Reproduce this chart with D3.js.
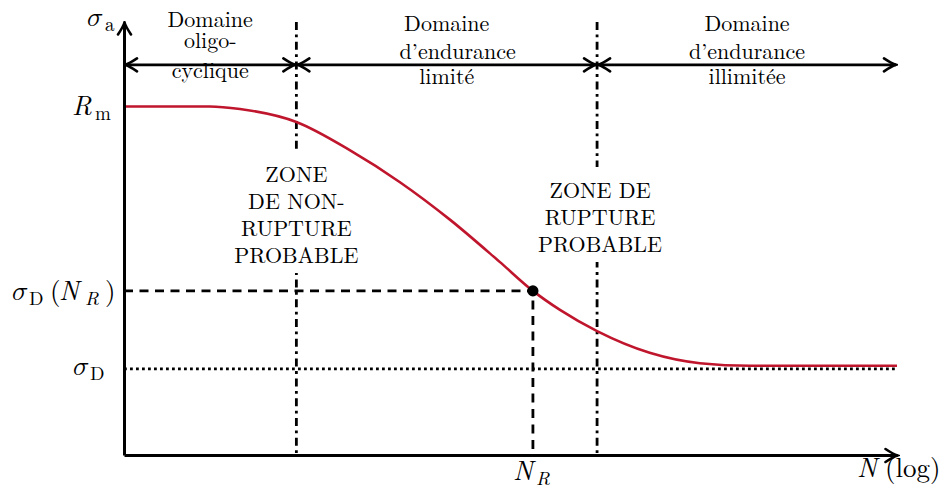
<!DOCTYPE html>
<html>
<head>
<meta charset="utf-8">
<script src="https://cdn.jsdelivr.net/npm/d3@7"></script>
<style>
  body { margin: 0; background: #fff; }
</style>
</head>
<body>
<div id="chart"></div>
<script>
// abscissa: log N in arbitrary units (0..10), ordinate: stress in % of axis height
const curveN     = [0, 1.11, 1.5, 2.23, 2.92, 3.57, 4.22, 4.86, 5.29, 5.64, 6.12, 6.80, 7.45, 8.10, 10];
const curveSigma = [80.5, 80.5, 79.9, 76.9, 70.4, 63.0, 54.3, 44.6, 37.9, 33.5, 28.6, 23.6, 21.2, 20.6, 20.6];

const domainBounds = [0, 2.23, 6.12, 10];
const domainLabels = [
    ["Domaine", "oligo-", "cyclique"],
    ["Domaine", "d’endurance", "limité"],
    ["Domaine", "d’endurance", "illimitée"]
];
const zoneLabels = [
    ["ZONE", "DE NON-", "RUPTURE", "PROBABLE"],
    ["ZONE DE", "RUPTURE", "PROBABLE"]
];

const Rm = 80.5;
const sigmaD = 19.9;
const NR = 5.29;
const sigmaDNR = 37.9;
const arrowLevel = 90.1;

const config = {
    width: 944,
    height: 491,
    margin: { top: 22, right: 47, bottom: 36, left: 124 }
};
const width = config.width - config.margin.left - config.margin.right;
const height = config.height - config.margin.top - config.margin.bottom;

const svg = d3.select('#chart')
    .append('svg')
    .attr('width', config.width)
    .attr('height', config.height)
    .style('font-family', '"Latin Modern Roman", "Liberation Serif", serif');

// arrow heads (latex style barbs)
const defs = svg.append('defs');
defs.append('marker')
    .attr('id', 'tip')
    .attr('viewBox', '-14 -9 16 18')
    .attr('markerWidth', 16)
    .attr('markerHeight', 18)
    .attr('markerUnits', 'userSpaceOnUse')
    .attr('refX', 0)
    .attr('refY', 0)
    .attr('orient', 'auto-start-reverse')
    .append('path')
    .attr('d', 'M-12,-6.5 Q-4,-1.2 0,0 Q-4,1.2 -12,6.5')
    .attr('fill', 'none')
    .attr('stroke', '#000')
    .attr('stroke-width', 2.6)
    .attr('stroke-linecap', 'round');

const chart = svg.append('g')
    .attr('transform', `translate(${config.margin.left},${config.margin.top})`);

const x = d3.scaleLinear().domain([0, 10]).range([0, width]);
const y = d3.scaleLinear().domain([0, 100]).range([height, 0]);

// dotted endurance limit
chart.append('line')
    .attr('x1', x(0)).attr('x2', x(10))
    .attr('y1', y(sigmaD)).attr('y2', y(sigmaD))
    .attr('stroke', '#000')
    .attr('stroke-width', 2.8)
    .attr('stroke-dasharray', '2.8,3.2');

// dashed guide to the point
chart.append('path')
    .attr('d', `M${x(0)},${y(sigmaDNR)}H${x(NR)}V${y(0)}`)
    .attr('fill', 'none')
    .attr('stroke', '#000')
    .attr('stroke-width', 2.8)
    .attr('stroke-dasharray', '9,6.5');

// dash-dotted domain borders
chart.selectAll('.border')
    .data(domainBounds.slice(1, 3))
    .join('line')
    .attr('class', 'border')
    .attr('x1', d => x(d)).attr('x2', d => x(d))
    .attr('y1', y(100)).attr('y2', y(0))
    .attr('stroke', '#000')
    .attr('stroke-width', 2.8)
    .attr('stroke-dasharray', '8,4.5,2.8,4.5');

// domain arrows
const domains = d3.pairs(domainBounds);
chart.selectAll('.domain-arrow')
    .data(domains)
    .join('line')
    .attr('class', 'domain-arrow')
    .attr('x1', d => x(d[0]) + 1).attr('x2', d => x(d[1]) - 1)
    .attr('y1', y(arrowLevel)).attr('y2', y(arrowLevel))
    .attr('stroke', '#000')
    .attr('stroke-width', 2.6)
    .attr('marker-start', 'url(#tip)')
    .attr('marker-end', 'url(#tip)');

// domain titles
const domainBaselines = [[-38, -17, 13], [-34, -6, 19], [-34, -6, 19]];
const domainShift = [[0, 0, 0], [0, 11, 0], [0, 0, 0]];
domainLabels.forEach((lines, i) => {
    const cx = (x(domains[i][0]) + x(domains[i][1])) / 2;
    chart.append('text')
        .attr('text-anchor', 'middle')
        .style('font-size', '22px')
        .selectAll('tspan')
        .data(lines)
        .join('tspan')
        .attr('x', (d, j) => cx + domainShift[i][j])
        .attr('y', (d, j) => y(arrowLevel) + domainBaselines[i][j])
        .text(d => d);
});

// zone labels, masking the border lines behind them
const zoneTop = [160, 176];
const zoneShift = [0, 3];
zoneLabels.forEach((lines, i) => {
    const cx = x(domainBounds[i + 1]) + zoneShift[i];
    const zg = chart.append('g');
    const bg = zg.append('rect').attr('fill', '#fff');
    const t = zg.append('text')
        .attr('text-anchor', 'middle')
        .style('font-size', '22px');
    t.selectAll('tspan')
        .data(lines)
        .join('tspan')
        .attr('x', cx)
        .attr('y', (d, j) => zoneTop[i] + j * 27)
        .text(d => d);
    const b = t.node().getBBox();
    bg.attr('x', b.x - 4).attr('y', b.y - 6)
        .attr('width', b.width + 8).attr('height', b.height + 10);
});

// S-N curve
const curvePoints = d3.zip(curveN, curveSigma);
const line = d3.line()
    .x(d => x(d[0]))
    .y(d => y(d[1]))
    .curve(d3.curveMonotoneX);

chart.append('path')
    .datum(curvePoints)
    .attr('fill', 'none')
    .attr('stroke', '#c0162d')
    .attr('stroke-width', 2.6)
    .attr('d', line);

chart.append('circle')
    .attr('cx', x(NR))
    .attr('cy', y(sigmaDNR))
    .attr('r', 5.6)
    .attr('fill', '#000');

// axes
const xAxis = d3.axisBottom(x).tickValues([]).tickSizeOuter(0);
const yAxis = d3.axisLeft(y).tickValues([]).tickSizeOuter(0);

const xAxisGroup = chart.append('g')
    .attr('transform', `translate(0,${height})`)
    .call(xAxis);
const yAxisGroup = chart.append('g')
    .call(yAxis);

[xAxisGroup, yAxisGroup].forEach(g => {
    g.select('.domain')
        .attr('stroke', '#000')
        .attr('stroke-width', 3)
        .attr('marker-end', 'url(#tip)');
});

// math labels: each part = [text, italic, subscript, x offset]
const SIGMA = '\u{1D70E}';
function mathLabel(parts, x0, base, size) {
    const t = chart.append('text').style('font-size', size + 'px');
    parts.forEach(p => {
        const ts = t.append('tspan')
            .attr('x', x0 + p[3])
            .attr('y', base + (p[2] ? 5 : 0))
            .style('font-style', p[1] ? 'italic' : 'normal')
            .style('font-size', p[2] ? '19px' : null)
            .text(p[0]);
        if (p[0] === SIGMA) ts.style('font-family', '"Latin Modern Math", "Liberation Serif", serif').style('font-style', 'normal');
    });
    return t;
}

mathLabel([[SIGMA, true, false, 0], ['a', false, true, 18]], x(0) - 37, y(100) + 4, 27);
mathLabel([['R', true, false, 0], ['m', false, true, 23]], x(0) - 52, y(Rm) + 9, 27);
mathLabel([[SIGMA, true, false, 0], ['D', false, true, 17], ['(', false, false, 38],
           ['N', true, false, 47], ['R', true, true, 73], [')', false, false, 93]],
          x(0) - 112, y(sigmaDNR) + 9, 27);
mathLabel([[SIGMA, true, false, 0], ['D', false, true, 17]], x(0) - 51, y(sigmaD) + 6, 27);
mathLabel([['N', true, false, 0], ['R', true, true, 23]], x(NR) - 20, y(0) + 25, 27);
mathLabel([['N', true, false, 0], ['(log)', false, false, 28]], x(10) - 40, y(0) + 22, 27);
</script>
</body>
</html>
